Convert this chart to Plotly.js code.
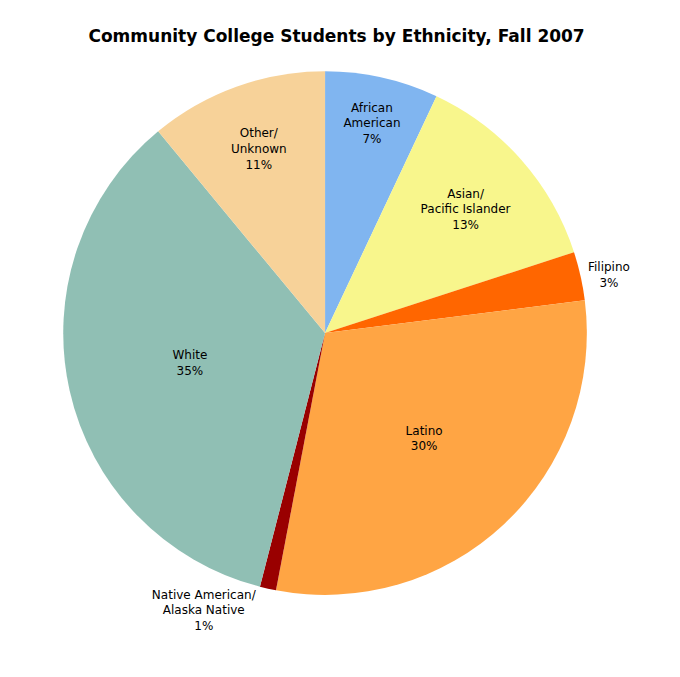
<!DOCTYPE html>
<html>
<head>
<meta charset="utf-8">
<script src="https://cdn.plot.ly/plotly-3.0.1.min.js"></script>
<style>body{margin:0}</style>
</head>
<body>
<div id="chart" style="width:680px;height:677px"></div>
<script>
const groups = ['African<br>American', 'Asian/<br>Pacific Islander', 'Filipino', 'Latino',
  'Native American/<br>Alaska Native', 'White', 'Other/<br>Unknown']
const shares = [7, 13, 3, 30, 1, 35, 11]
const colors = ['#80b5f0', '#f8f68c', '#ff6600', '#ffa544', '#990000', '#90bfb4', '#f7d299']
const positions = ['inside', 'inside', 'outside', 'inside', 'outside', 'inside', 'inside']

Plotly.newPlot('chart', [{
  type: 'pie',
  values: shares,
  text: groups.map((g, i) => g + '<br>' + shares[i] + '%'),
  textinfo: 'text',
  textposition: positions,
  insidetextorientation: 'horizontal',
  sort: false,
  direction: 'clockwise',
  rotation: 0,
  marker: { colors: colors, line: { width: 0 } },
  textfont: { family: 'DejaVu Sans', size: 12, color: '#000' },
  outsidetextfont: { family: 'DejaVu Sans', size: 12, color: '#000' },
  hoverinfo: 'none',
  domain: { x: [0.093, 0.863], y: [0.121, 0.895] }
}], {
  width: 680,
  height: 677,
  margin: { l: 0, r: 0, t: 0, b: 0 },
  showlegend: false,
  title: { text: '<b>Community College Students by Ethnicity, Fall 2007</b>', x: 0.495, y: 0.955, font: { family: 'DejaVu Sans', size: 17, color: '#000' } },
  paper_bgcolor: '#fff'
}, { displayModeBar: false })
</script>
</body>
</html>
